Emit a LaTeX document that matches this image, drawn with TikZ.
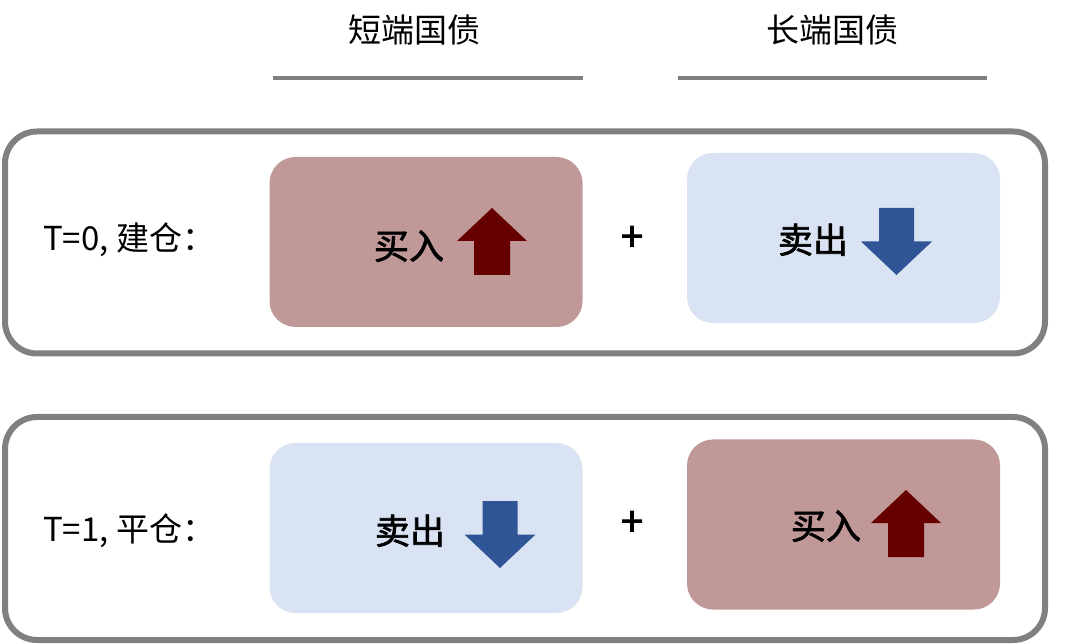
\documentclass[tikz,border=0pt]{standalone}
\usepackage{fontspec}
\setmainfont{Noto Sans CJK SC}
\newfontfamily\fakebold{Noto Sans CJK SC}[FakeBold=2]
\definecolor{boxred}{RGB}{192,152,152}
\definecolor{arrred}{RGB}{102,0,0}
\definecolor{boxblue}{RGB}{218,227,243}
\definecolor{arrblue}{RGB}{47,85,151}
\definecolor{linegray}{RGB}{128,128,128}
\tikzset{
  outerbox/.style={draw=linegray, line width=6pt, rounded corners=32pt, inner sep=0pt},
  redbox/.style={fill=boxred, rounded corners=26pt, minimum width=313pt, minimum height=170pt, inner sep=0pt},
  bluebox/.style={fill=boxblue, rounded corners=26pt, minimum width=313pt, minimum height=170pt, inner sep=0pt},
  hdr/.style={font=\fontsize{33}{40}\selectfont, anchor=base, inner sep=0pt},
  lbl/.style={font=\fontsize{33}{40}\selectfont, anchor=base west, inner sep=0pt},
  act/.style={font=\fontsize{35}{42}\selectfont\fakebold, anchor=base, inner sep=0pt},
  plussign/.style={font=\fontsize{40}{46}\selectfont\fakebold, anchor=base, inner sep=0pt},
  headline/.style={draw=linegray, line width=3.5pt},
  uparr/.pic={\fill[arrred] (0,0) -- (35,33) -- (18,33) -- (18,67) -- (-18,67) -- (-18,33) -- (-35,33) -- cycle;},
  downarr/.pic={\fill[arrblue] (-17.5,0) -- (17.5,0) -- (17.5,33.5) -- (35.5,33.5) -- (0,67) -- (-35.5,33.5) -- (-17.5,33.5) -- cycle;}
}
\begin{document}
\begin{tikzpicture}[x=1pt,y=-1pt]
\useasboundingbox (0,0) rectangle (1080,644);
% headers
\node[hdr] (hshort) at (414,43) {短端国债};
\node[hdr] (hlong) at (832,43) {长端国债};
\coordinate (l1a) at (273,78); \coordinate (l1b) at (583,78);
\coordinate (l2a) at (678,78); \coordinate (l2b) at (987,78);
\draw[headline] (l1a) -- (l1b);
\draw[headline] (l2a) -- (l2b);
% outer frames
\node[outerbox, minimum width=1040pt, minimum height=222pt] (row0) at (525,242.5) {};
\node[outerbox, minimum width=1040pt, minimum height=223pt] (row1) at (525,528.5) {};
% row 0
\node[lbl] (t0) at (43,251) {T=0, 建仓：};
\node[redbox] (b0s) at (426,242) {};
\node[bluebox] (b0l) at (843.5,238) {};
\node[act] (a0s) at (409,259) {买入};
\node[act] (a0l) at (813,253) {卖出};
\pic at (492,208) {uparr};
\pic at (896.5,208) {downarr};
\node[plussign] (p0) at (632,251) {+};
% row 1
\node[lbl] (t1) at (43,541) {T=1, 平仓：};
\node[bluebox] (b1s) at (426,528) {};
\node[redbox] (b1l) at (843.5,524.5) {};
\node[act] (a1s) at (410,544) {卖出};
\node[act] (a1l) at (826,539) {买入};
\pic at (500,501) {downarr};
\pic at (906,490) {uparr};
\node[plussign] (p1) at (632,536) {+};
\end{tikzpicture}
\end{document}
